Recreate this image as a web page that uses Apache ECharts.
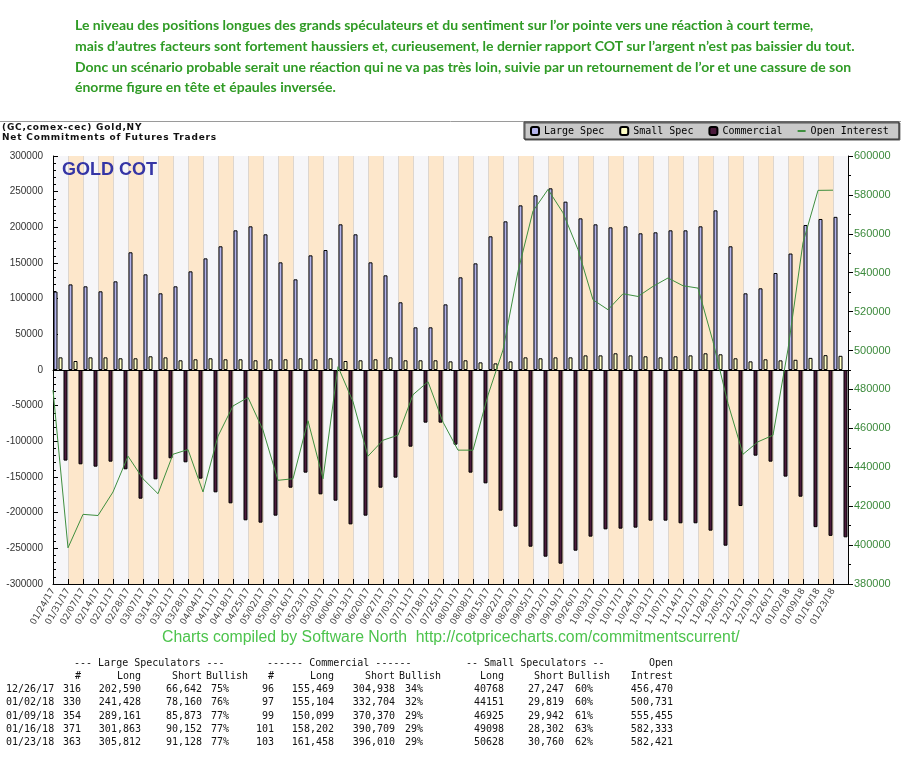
<!DOCTYPE html>
<html>
<head>
<meta charset="utf-8">
<script src="https://cdn.jsdelivr.net/npm/echarts@6/dist/echarts.min.js"></script>
<style>
  html, body { margin:0; padding:0; background:#fff; }
  #wrap { position:relative; width:901px; height:759px; overflow:hidden; }
  #chart { position:absolute; left:0; top:0; width:901px; height:759px; }
  .t { position:absolute; white-space:pre; z-index:5; }
  .note { font-family:'Lato', sans-serif; font-weight:bold; font-size:14px; line-height:16px; color:#2f9b25; left:75px; }
  .hdr { font-family:'DejaVu Sans', sans-serif; font-weight:bold; font-size:9px; line-height:10px; letter-spacing:0.8px; color:#111; left:2px; }
  .tab { font-family:'DejaVu Sans Mono', monospace; font-size:10px; line-height:12px; color:#111; }
</style>
</head>
<body>
<div id="wrap">
  <div id="chart"></div>
</div>
<script>
// ---------- data ----------
const dates = ['01/24/17','01/31/17','02/07/17','02/14/17','02/21/17','02/28/17','03/07/17','03/14/17','03/21/17','03/28/17',
  '04/04/17','04/11/17','04/18/17','04/25/17','05/02/17','05/09/17','05/16/17','05/23/17','05/30/17','06/06/17',
  '06/13/17','06/20/17','06/27/17','07/03/17','07/11/17','07/18/17','07/25/17','08/01/17','08/08/17','08/15/17',
  '08/22/17','08/29/17','09/05/17','09/12/17','09/19/17','09/26/17','10/03/17','10/10/17','10/17/17','10/24/17',
  '10/31/17','11/07/17','11/14/17','11/21/17','11/28/17','12/05/17','12/12/17','12/19/17','12/26/17','01/02/18',
  '01/09/18','01/16/18','01/23/18'];

const largeSpec = [110000,120000,117300,110300,124300,165000,134100,107500,117300,138300,
  156500,173400,195800,201400,190200,150900,127100,160700,168200,204200,
  190200,150900,132700,94900,59800,59800,92000,129900,149500,187400,
  208400,230800,244900,254700,236000,212600,204200,200000,201400,191600,
  193000,195800,195800,201400,223800,173400,107500,114500,135948,163268,
  203288,211711,214684];

const smallSpec = [17700,12600,17700,17700,16400,16400,19200,17700,13600,15000,
  16400,15000,15000,13600,15000,15000,16400,15000,16400,12600,
  13600,15000,17700,13600,13600,13600,12100,13600,10700,9300,
  12100,17700,16400,17700,17700,20500,20500,23400,20500,19200,
  17700,19200,20500,23400,22000,16400,12100,15000,13521,14332,
  16983,20796,19868];

const commercial = [-127000,-132200,-135500,-128500,-139200,-180400,-153300,-123800,-129400,-152300,
  -171500,-186900,-210700,-214000,-204200,-165000,-143900,-174300,-183200,-216400,
  -204200,-165000,-150900,-107500,-73800,-73800,-104700,-143900,-158900,-197200,
  -219600,-247700,-261700,-271500,-253300,-233600,-223400,-222400,-221000,-211200,
  -211200,-214900,-214900,-225200,-246300,-190700,-120100,-128500,-149469,-177600,
  -220271,-232507,-234552];

const openInterest = [479700,398600,415800,415200,427300,445700,434100,426400,446700,449100,
  427300,456000,471500,475900,459100,433300,434100,463900,434100,491700,
  473700,445700,453900,456500,477300,484000,463200,448800,448800,477100,
  500300,540700,571700,582800,570800,551900,526100,521000,529200,527800,
  533000,537300,533300,532100,504600,472800,446700,453100,456470,500731,
  555455,582333,582421];

const leftTicks = [-300000, 300000, 50000];   // min, max, step
const rightTicks = [380000, 600000, 20000];

const noteLines = [
  'Le niveau des positions longues des grands spéculateurs et du sentiment sur l’or pointe vers une réaction à court terme,',
  'mais d’autres facteurs sont fortement haussiers et, curieusement, le dernier rapport COT sur l’argent n’est pas baissier du tout.',
  'Donc un scénario probable serait une réaction qui ne va pas très loin, suivie par un retournement de l’or et une cassure de son',
  'énorme figure en tête et épaules inversée.'
];

// table
const tDates   = ['12/26/17','01/02/18','01/09/18','01/16/18','01/23/18'];
const lsCount  = [316,330,354,371,363];
const lsLong   = [202590,241428,289161,301863,305812];
const lsShort  = [66642,78160,85873,90152,91128];
const lsBull   = [75,76,77,77,77];
const cmCount  = [96,97,99,101,103];
const cmLong   = [155469,155104,150099,158202,161458];
const cmShort  = [304938,332704,370370,390709,396010];
const cmBull   = [34,32,29,29,29];
const ssLong   = [40768,44151,46925,49098,50628];
const ssShort  = [27247,29819,29942,28302,30760];
const ssBull   = [60,60,61,63,62];
const oiTable  = [456470,500731,555455,582333,582421];

// ---------- text overlays ----------
const wrap = document.getElementById('wrap');
function put(text, cls, x, top, align) {
  const d = document.createElement('div');
  d.className = 't ' + cls;
  d.textContent = text;
  d.style.top = top + 'px';
  d.style.left = x + 'px';
  if (align === 'right') d.style.transform = 'translateX(-100%)';
  wrap.appendChild(d);
  return d;
}
const noteTops = [17.3, 38.3, 58.9, 79.3];
noteLines.forEach((s, i) => put(s, 'note', 75, noteTops[i]));
put('(GC,comex-cec) Gold,NY', 'hdr', 2, 122);
put('Net Commitments of Futures Traders', 'hdr', 2, 131.5);

const gc = put('GOLD COT', '', 62, 159.7);
gc.style.cssText += 'font-family:"Liberation Sans",Arial,sans-serif;font-weight:bold;font-size:18px;line-height:18px;color:#3535a5;';

const ft = put('Charts compiled by Software North  http://cotpricecharts.com/commitmentscurrent/', '', 162, 628);
ft.style.cssText += 'font-family:"Liberation Sans",Arial,sans-serif;font-size:15.8px;line-height:17px;color:#4cc34c;';

const fmt = n => n.toLocaleString('en-US');
const rowY = [662.5, 675.5, 689, 702.3, 715.5, 728.5, 741.5];
const T = (txt, x, y, al) => put(txt, 'tab', x, y - 6, al);
// header line 1
T('--- Large Speculators ---', 74, rowY[0]);
T('------ Commercial ------', 267, rowY[0]);
T('-- Small Speculators --', 466, rowY[0]);
T('Open', 673, rowY[0], 'right');
// header line 2
T('#', 81, rowY[1], 'right'); T('Long', 141, rowY[1], 'right'); T('Short', 202, rowY[1], 'right'); T('Bullish', 206, rowY[1]);
T('#', 274, rowY[1], 'right'); T('Long', 334, rowY[1], 'right'); T('Short', 395, rowY[1], 'right'); T('Bullish', 399, rowY[1]);
T('Long', 504, rowY[1], 'right'); T('Short', 564, rowY[1], 'right'); T('Bullish', 568, rowY[1]);
T('Intrest', 673, rowY[1], 'right');
tDates.forEach((d, i) => {
  const y = rowY[i + 2];
  T(d, 6, y);
  T(String(lsCount[i]), 81, y, 'right');
  T(fmt(lsLong[i]), 141, y, 'right');
  T(fmt(lsShort[i]), 202, y, 'right');
  T(lsBull[i] + '%', 211, y);
  T(String(cmCount[i]), 274, y, 'right');
  T(fmt(cmLong[i]), 334, y, 'right');
  T(fmt(cmShort[i]), 395, y, 'right');
  T(cmBull[i] + '%', 405, y);
  T(String(ssLong[i]), 504, y, 'right');
  T(fmt(ssShort[i]), 564, y, 'right');
  T(ssBull[i] + '%', 575, y);
  T(fmt(oiTable[i]), 673, y, 'right');
});

// ---------- chart ----------
const chart = echarts.init(document.getElementById('chart'));
const barBorder = { borderColor: '#000', borderWidth: 1 };
chart.setOption({
  animation: false,
  graphic: [
    { type: 'line', shape: { x1: 0, y1: 121.5, x2: 901, y2: 121.5 }, style: { stroke: '#9a9a9a', lineWidth: 1 }, z: 1 }
  ],
  legend: {
    left: 524, top: 122,
    data: ['Large Spec', 'Small Spec', 'Commercial',
      { name: 'Open Interest', icon: 'path://M0,3 L8,3 L8,5 L0,5 Z' }],
    backgroundColor: '#c9c9c9', borderColor: '#333', borderWidth: 1,
    shadowColor: '#555', shadowOffsetX: 1, shadowOffsetY: 1, shadowBlur: 0,
    padding: [4, 10, 3, 6], itemGap: 15, itemWidth: 8, itemHeight: 8,
    textStyle: { fontFamily: 'DejaVu Sans Mono', fontSize: 10, color: '#000' }
  },
  grid: { left: 53, top: 156, width: 795, height: 428 },
  xAxis: [
    {
      type: 'category', data: dates, boundaryGap: true,
      axisLine: { show: true, onZero: true, onZeroAxisIndex: 0, lineStyle: { color: '#000', width: 1 } },
      axisTick: { show: false }, axisLabel: { show: false },
      splitLine: { show: true, interval: 0, lineStyle: { color: '#ddd6cf', width: 1 } },
      splitArea: { show: true, interval: 0, areaStyle: { color: ['#f6f6f9', '#fde7cb'] } }
    },
    {
      type: 'value', min: 0, max: dates.length, interval: 1, position: 'bottom',
      axisLine: { show: true, onZero: false, lineStyle: { color: '#000', width: 1 } },
      axisTick: { show: true, inside: true, length: 5, lineStyle: { color: '#000' } },
      axisLabel: { rotate: 60, margin: 5, fontSize: 9, color: '#444', fontFamily: 'DejaVu Sans',
        formatter: v => dates[v] || '' },
      splitLine: { show: false }
    }
  ],
  yAxis: [
    {
      type: 'value', min: leftTicks[0], max: leftTicks[1], interval: leftTicks[2], position: 'left',
      axisLine: { show: true, lineStyle: { color: '#000' } },
      axisTick: { show: true, inside: true, length: 5, lineStyle: { color: '#000' } },
      minorTick: { show: true, splitNumber: 5, length: 3, lineStyle: { color: '#000' } },
      axisLabel: { margin: 10, fontSize: 10, color: '#333', fontFamily: 'Liberation Sans', formatter: v => String(v) },
      splitLine: { show: true, lineStyle: { color: '#cfcfcf' } }
    },
    {
      type: 'value', min: rightTicks[0], max: rightTicks[1], interval: rightTicks[2], position: 'right',
      axisLine: { show: true, lineStyle: { color: '#000' } },
      axisTick: { show: true, inside: false, length: 5, lineStyle: { color: '#000' } },
      minorTick: { show: true, splitNumber: 2, length: 3, lineStyle: { color: '#000' } },
      axisLabel: { margin: 6, fontSize: 11, color: '#3c8a3c', fontFamily: 'Liberation Sans', formatter: v => String(v) },
      splitLine: { show: false }
    }
  ],
  series: [
    { name: 'Large Spec', type: 'bar', xAxisIndex: 0, yAxisIndex: 0, data: largeSpec,
      barWidth: 4, barGap: '25%', itemStyle: Object.assign({ color: '#b4b4ec' }, barBorder) },
    { name: 'Small Spec', type: 'bar', xAxisIndex: 0, yAxisIndex: 0, data: smallSpec,
      barWidth: 4, barGap: '25%', itemStyle: Object.assign({ color: '#ffffc6' }, barBorder) },
    { name: 'Commercial', type: 'bar', xAxisIndex: 0, yAxisIndex: 0, data: commercial,
      barWidth: 4, barGap: '25%', itemStyle: Object.assign({ color: '#4b1a3c' }, barBorder) },
    { name: 'Open Interest', type: 'line', xAxisIndex: 1, yAxisIndex: 1,
      data: openInterest.map((v, i) => [i, v]), symbol: 'none',
      lineStyle: { color: '#3f8f3f', width: 1 }, itemStyle: { color: '#3f8f3f' }, z: 5 }
  ]
});
</script>
</body>
</html>
